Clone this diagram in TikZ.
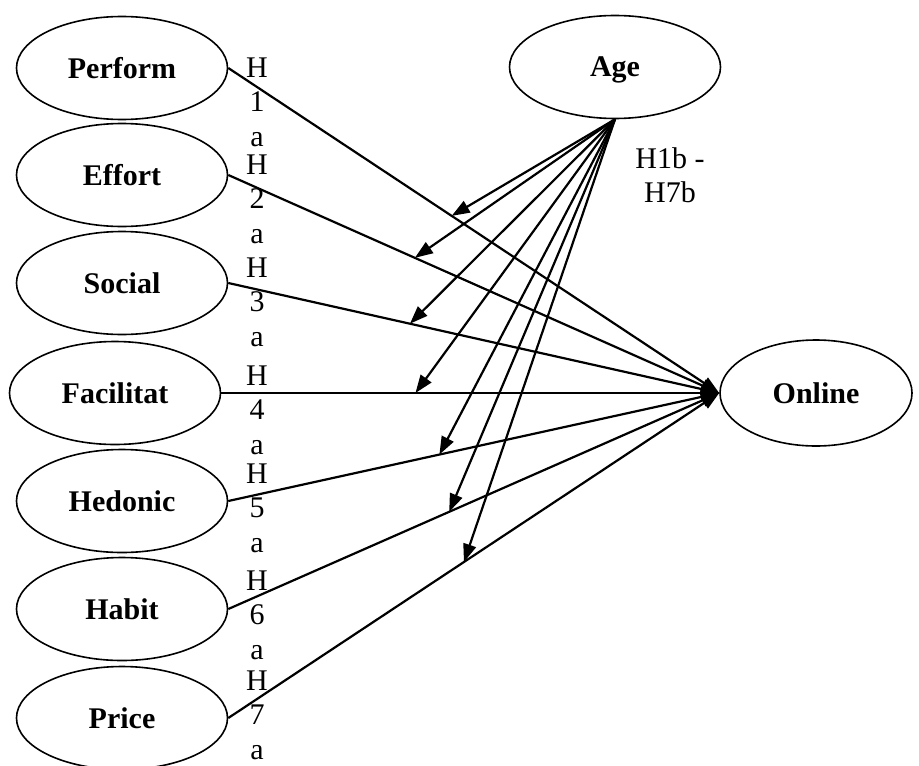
\documentclass[tikz,border=0pt]{standalone}
\usepackage{fontspec}
\setmainfont{Liberation Serif}
\usetikzlibrary{arrows.meta,shapes.geometric}
\tikzset{%
  construct/.style={draw, ellipse, line width=0.8pt, inner sep=0pt,
    minimum width=105.5pt, minimum height=51.5pt, text depth=0pt,
    font=\bfseries\fontsize{15}{18}\selectfont},
  hyp label/.style={align=center, inner sep=0pt,
    font=\fontsize{15}{17.2}\selectfont},
  path line/.style={line width=1.1pt, -{Triangle[length=9pt,width=6.5pt]}},
}
\begin{document}
\begin{tikzpicture}[x=0.5pt,y=-0.5pt]
  \useasboundingbox (0,0) rectangle (919,765);
  % predictors on the left
  \foreach \name/\txt/\x/\y in {perform/Perform/122/68, effort/Effort/122/175,
      social/Social/122/283, facil/Facilitat/115/393, hedonic/Hedonic/122/501,
      habit/Habit/122/609, price/Price/122/718} {
    \node [construct] (\name) at (\x,\y) {\txt};
  }
  \node [construct] (age) at (615,67) {Age};
  \node [construct, minimum width=96pt, minimum height=53pt] (online) at (816,393) {Online};
  % hypothesis labels
  \foreach \n/\y in {1/102, 2/199, 3/302, 4/410, 5/508, 6/615, 7/715} {
    \node [hyp label] (h\n a) at (257,\y) {H\\\n\\a};
  }
  \node [hyp label] (hb) at (670,175) {H1b -\\H7b};
  % direct paths and moderation by age
  \foreach \src/\p/\m in {perform/0.455/m1, effort/0.38/m2, social/0.37/m3,
      facil/0.39/m4, hedonic/0.43/m5, habit/0.45/m6, price/0.48/m7} {
    \draw [path line] (\src.east) -- coordinate[pos=\p] (\m) (online.west);
    \draw [path line] (age.south) -- (\m);
  }
\end{tikzpicture}
\end{document}
